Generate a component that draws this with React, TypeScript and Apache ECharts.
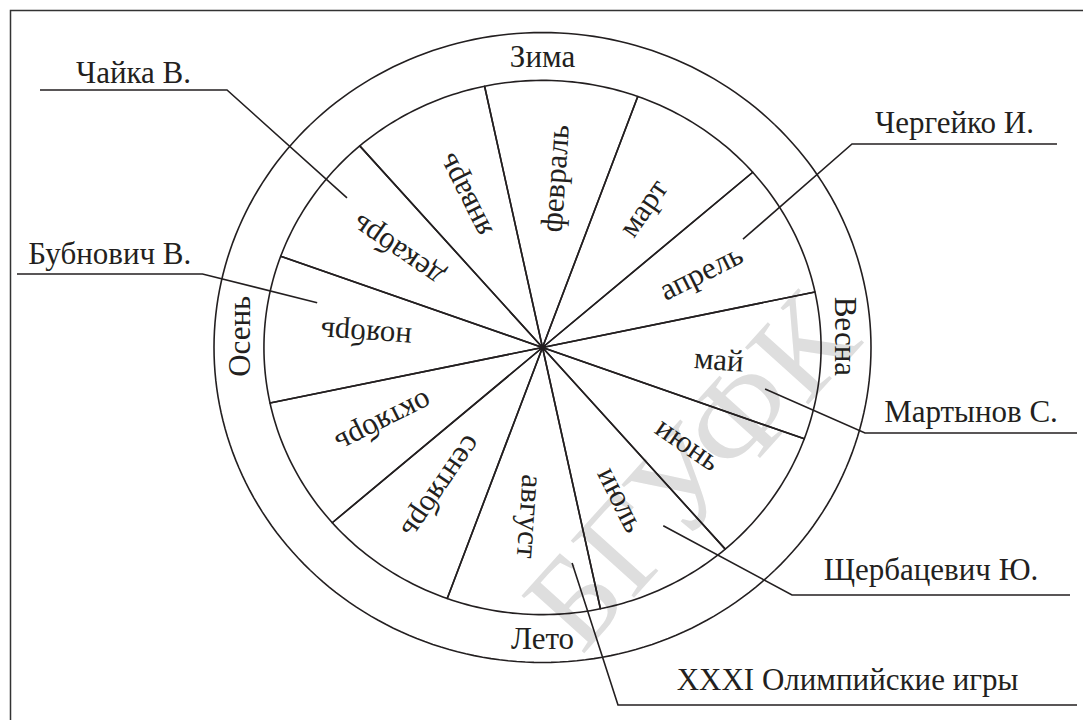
import React, { useEffect, useRef } from "react";
import * as echarts from "echarts";

// ---------- data ----------
const MONTHS = [
  "январь", "февраль", "март", "апрель", "май", "июнь",
  "июль", "август", "сентябрь", "октябрь", "ноябрь", "декабрь",
];
// angular share of every month sector, degrees
const MONTH_DEG = [29, 32, 29, 29, 32, 29, 29, 32, 29, 29, 32, 29];
const SEASONS = ["Зима", "Весна", "Лето", "Осень"];
const PEOPLE = [
  "Чайка В.",
  "Бубнович В.",
  "Чергейко И.",
  "Мартынов С.",
  "Щербацевич Ю.",
  "XXXI Олимпийские игры",
];
const PERSON_MONTH = ["декабрь", "ноябрь", "апрель", "май", "июль", "август"];
const WATERMARK = "БГУФК";

// ---------- layout / style ----------
const INK = "#231f20";
const FONT_SIZE = 31;
const FONT_FAMILY = "Liberation Serif";
const LINE_W = 1.6;
const INNER = 0.848; // inner ellipse / outer ellipse
const START_ANGLE = 131;
const LABEL_R = 0.635;
const SEASON_DIR = [90, 0, -90, 180];
const SEASON_TEXT_SHIFT = [0, 2.2, 0, -2.2];
// leader start: [angle deg, radius as share of inner ellipse]
const LEADER_START = [
  [141.4, 0.898],
  [168.3, 0.826],
  [29.4, 0.826],
  [-11, 0.814],
  [-57, 0.796],
  [-82.5, 0.814],
];
// leader elbow / end in axis units
const LEADER_ELBOW = [
  [-0.9604, 0.8175],
  [-1.035, 0.2333],
  [0.9422, 0.646],
  [0.9817, -0.2714],
  [0.7595, -0.7857],
  [0.2298, -1.1349],
];
const LEADER_END_X = [-1.5297, -1.5997, 1.5662, 1.6271, 1.6058, 1.6271];
const LEADER_TEXT_RISE = [17, 21, 22, 21, 25, 25];

const D2R = Math.PI / 180;
const ell = (deg: number, r: number) => [r * Math.cos(deg * D2R), r * Math.sin(deg * D2R)];

const textEl = (text: string, p: number[], rotDeg = 0) => ({
  type: "text",
  z: 10,
  x: p[0],
  y: p[1],
  rotation: rotDeg * D2R,
  style: {
    text,
    fill: INK,
    fontFamily: FONT_FAMILY,
    fontSize: FONT_SIZE,
    align: "center",
    verticalAlign: "middle",
  },
});

export default function App() {
  const ref = useRef<HTMLDivElement>(null);

  useEffect(() => {
    if (!ref.current) return;
    const chart = echarts.init(ref.current, undefined, { renderer: "svg" });
    const total = MONTH_DEG.reduce((a, b) => a + b, 0);
    const starts: number[] = [];
    let acc = 0;
    MONTH_DEG.forEach((d) => {
      starts.push(START_ANGLE - (360 * acc) / total);
      acc += d;
    });
    const midOf = (i: number) => starts[i] - (180 * MONTH_DEG[i]) / total;

    const option: any = {
      animation: false,
      backgroundColor: "#ffffff",
      grid: { left: 214, top: 32.5, width: 657, height: 630 },
      xAxis: { type: "value", min: -1, max: 1, show: false },
      yAxis: { type: "value", min: -1, max: 1, show: false },
      series: [
        {
          type: "custom",
          name: "months",
          coordinateSystem: "cartesian2d",
          clip: false,
          z: 3,
          data: MONTHS.map((m, i) => ({ name: m, value: [i, MONTH_DEG[i]] })),
          renderItem: (params: any, api: any) => {
            const i = params.dataIndex;
            const a0 = starts[i];
            const a1 = a0 - (360 * api.value(1)) / total;
            const pts: number[][] = [api.coord([0, 0])];
            const N = 30;
            for (let k = 0; k <= N; k++) {
              const a = a0 + ((a1 - a0) * k) / N;
              pts.push(api.coord(ell(a, INNER)));
            }
            return {
              type: "polygon",
              shape: { points: pts },
              style: { fill: "none", stroke: INK, lineWidth: LINE_W, lineJoin: "round" },
            };
          },
        },
        {
          type: "custom",
          name: "seasons",
          coordinateSystem: "cartesian2d",
          clip: false,
          z: 3,
          data: SEASONS.map((s, i) => ({ name: s, value: [i, 90] })),
          renderItem: (params: any, api: any) => {
            const i = params.dataIndex;
            const dir = SEASON_DIR[i];
            const half = api.value(1) / 2;
            const pts: number[][] = [];
            const N = 60;
            for (let k = 0; k <= N; k++) {
              const a = dir + half - (2 * half * k) / N;
              pts.push(api.coord(ell(a, 1)));
            }
            return {
              type: "polyline",
              shape: { points: pts },
              style: { fill: "none", stroke: INK, lineWidth: LINE_W },
            };
          },
        },
        {
          type: "custom",
          name: "people",
          coordinateSystem: "cartesian2d",
          clip: false,
          z: 4,
          data: PEOPLE.map((p, i) => ({ name: p, value: [i, MONTHS.indexOf(PERSON_MONTH[i])] })),
          renderItem: (params: any, api: any) => {
            const i = params.dataIndex;
            const [ang, r] = LEADER_START[i];
            const s = api.coord(ell(ang, INNER * r));
            const e = api.coord(LEADER_ELBOW[i]);
            const f = api.coord([LEADER_END_X[i], LEADER_ELBOW[i][1]]);
            return {
              type: "polyline",
              shape: { points: [s, e, f] },
              style: { fill: "none", stroke: INK, lineWidth: LINE_W },
            };
          },
        },
      ],
    };
    chart.setOption(option);

    const px = (p: number[]) => chart.convertToPixel({ gridIndex: 0 }, p) as number[];
    const texts: any[] = [];
    MONTHS.forEach((m, i) => {
      const mid = midOf(i);
      texts.push(textEl(m, px(ell(mid, INNER * LABEL_R)), mid));
    });
    SEASONS.forEach((s, i) => {
      const dir = SEASON_DIR[i];
      let rot = dir - 90;
      if (rot < -90) rot += 180;
      texts.push(textEl(s, px(ell(dir + SEASON_TEXT_SHIFT[i], (1 + INNER) / 2)), rot));
    });
    PEOPLE.forEach((p, i) => {
      const e = px(LEADER_ELBOW[i]);
      const f = px([LEADER_END_X[i], LEADER_ELBOW[i][1]]);
      texts.push(textEl(p, [(e[0] + f[0]) / 2, e[1] - LEADER_TEXT_RISE[i]]));
    });

    chart.setOption({
      graphic: [
        {
          type: "rect",
          z: 0,
          shape: { x: 10.5, y: 10.5, width: 1200, height: 900 },
          style: { fill: "none", stroke: "#333333", lineWidth: 1.5 },
        },
        {
          type: "text",
          z: 0,
          x: 690,
          y: 470,
          rotation: 48 * D2R,
          style: {
            text: WATERMARK,
            fill: "#dedede",
            fontFamily: FONT_FAMILY,
            fontSize: 130,
            align: "center",
            verticalAlign: "middle",
          },
        },
        ...texts,
      ],
    });
    return () => chart.dispose();
  }, []);

  return (
    <div
      ref={ref}
      style={{ position: "fixed", left: 0, top: 0, width: 1083, height: 720, background: "#fff" }}
    />
  );
}
